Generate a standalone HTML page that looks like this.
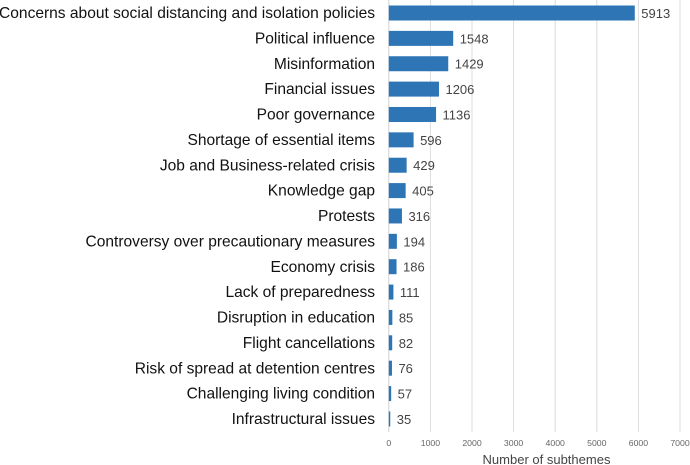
<!DOCTYPE html>
<html lang="en">
<head>
<meta charset="utf-8">
<title>Number of subthemes</title>
<style>
html,body{margin:0;padding:0;background:#fff;width:690px;height:465px;overflow:hidden}
svg{display:block;font-family:"Liberation Sans",Arial,sans-serif}
</style>
</head>
<body>
<svg id="chart" width="690" height="465" viewBox="0 0 690 465" xmlns="http://www.w3.org/2000/svg">
<rect x="0" y="0" width="690" height="465" fill="#ffffff"/>
<g id="grid"></g>
<g id="bars"></g>
<g id="cats"></g>
<g id="vals"></g>
<g id="ticks"></g>
<text x="546.5" y="464" text-anchor="middle" font-size="13" fill="#444444">Number of subthemes</text>
</svg>
<script>
const categories = ["Concerns about social distancing and isolation policies","Political influence","Misinformation","Financial issues","Poor governance","Shortage of essential items","Job and Business-related crisis","Knowledge gap","Protests","Controversy over precautionary measures","Economy crisis","Lack of preparedness","Disruption in education","Flight cancellations","Risk of spread at detention centres","Challenging living condition","Infrastructural issues"];
const subthemeCounts = [5913,1548,1429,1206,1136,596,429,405,316,194,186,111,85,82,76,57,35];
const tickValues = [0,1000,2000,3000,4000,5000,6000,7000];

const NS = 'http://www.w3.org/2000/svg';
const xOrigin = 388.8, xPerUnit = (680 - 388.8) / 7000;
const rowFirst = 13, rowStep = 25.37, barHeight = 15;
const xScale = v => xOrigin + v * xPerUnit;
const yScale = i => rowFirst + i * rowStep;
function make(tag, attrs, parent, text) {
  const el = document.createElementNS(NS, tag);
  for (const k in attrs) el.setAttribute(k, attrs[k]);
  if (text !== undefined) el.textContent = text;
  parent.appendChild(el);
  return el;
}
const gridG = document.getElementById('grid');
const barsG = document.getElementById('bars');
const catsG = document.getElementById('cats');
const valsG = document.getElementById('vals');
const ticksG = document.getElementById('ticks');

tickValues.forEach(t => {
  const line = make('line', {x1: xScale(t), x2: xScale(t), y1: 0, y2: 432, stroke: t === 0 ? '#d0d0d0' : '#dcdcdc', 'stroke-width': 1}, gridG);
  
  
  const label = make('text', {x: xScale(t), y: 446, 'text-anchor': 'middle', 'font-size': 8.7, fill: '#666666'}, ticksG, String(t));
  
  
});

categories.forEach((c, i) => {
  const y = yScale(i), v = subthemeCounts[i];
  const bar = make('rect', {x: xOrigin, y: y - barHeight / 2, width: xScale(v) - xOrigin, height: barHeight, fill: '#2e75b6'}, barsG);
  
  
  const cat = make('text', {x: 375, y: y + 5.1, 'text-anchor': 'end', 'font-size': 15.55, fill: '#111111'}, catsG, c);
  
  
  const val = make('text', {x: xScale(v) + 6.5, y: y + 5, 'font-size': 13, fill: '#444444'}, valsG, String(v));
  
  
});
</script>
</body>
</html>
